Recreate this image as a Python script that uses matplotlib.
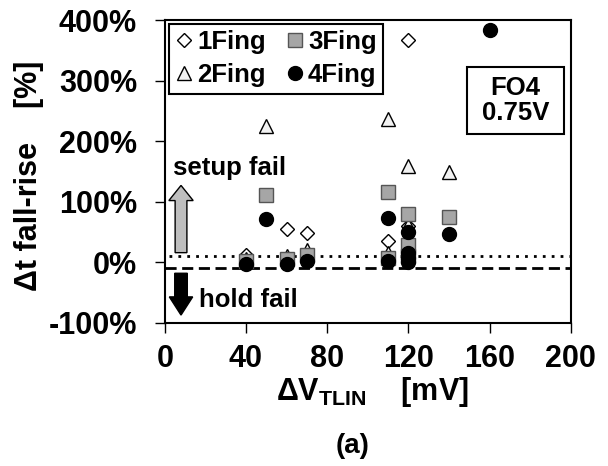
"""Delta t fall-rise vs Delta V_TLIN, FO4 at 0.75V (panel a)."""
import matplotlib
matplotlib.use("Agg")
import matplotlib.pyplot as plt
from matplotlib.patches import FancyArrow, Rectangle

plt.rcParams["font.family"] = ["Liberation Sans", "DejaVu Sans"]
plt.rcParams["font.weight"] = "bold"

# 1Fing (diamonds)
x_1fing = [40, 60, 70, 110, 120, 120]
y_1fing = [12, 55, 48, 36, 60, 367]
# 2Fing (triangles)
x_2fing = [40, 50, 60, 70, 110, 110, 120, 120, 140]
y_2fing = [5, 225, 10, 20, 15, 237, 62, 159, 149]
# 3Fing (grey squares)
x_3fing = [40, 50, 60, 70, 110, 110, 120, 120, 120, 140]
y_3fing = [2, 112, 5, 12, 8, 116, 79, 28, 10, 75]
# 4Fing (black circles)
x_4fing = [40, 50, 60, 70, 110, 110, 120, 120, 120, 120, 140, 160]
y_4fing = [-2, 72, -2, 3, 3, 74, 50, 16, 8, 0, 47, 384]

SETUP_LIMIT = 10
HOLD_LIMIT = -10

x_ticks = [0, 40, 80, 120, 160, 200]
y_ticks = [-100, 0, 100, 200, 300, 400]

fig = plt.figure(figsize=(6.08, 4.66), dpi=100)
ax = fig.add_axes([0.271, 0.307, 0.668, 0.650])

ax.axhline(SETUP_LIMIT, xmin=0.01, color="black", lw=2.0, ls=(0, (1, 2.2)), zorder=1)
ax.axhline(HOLD_LIMIT, color="black", lw=2.0, ls=(0, (4, 2)), zorder=1)

ax.plot(x_1fing, y_1fing, ls="none", marker="D", ms=7, mfc="white",
        mec="black", mew=1.0, label="1Fing", zorder=3)
ax.plot(x_2fing, y_2fing, ls="none", marker="^", ms=10, mfc="#f2f2f2",
        mec="black", mew=1.0, label="2Fing", zorder=3)
ax.plot(x_3fing, y_3fing, ls="none", marker="s", ms=10, mfc="#a6a6a6",
        mec="#555555", mew=1.0, label="3Fing", zorder=4)
ax.plot(x_4fing, y_4fing, ls="none", marker="o", ms=10, mfc="black",
        mec="black", label="4Fing", zorder=5)

# setup / hold arrows
ax.add_patch(FancyArrow(8, 16, 0, 111, width=5.8, head_width=12,
                        head_length=25, length_includes_head=True,
                        fc="#bfbfbf", ec="black", lw=1.0, zorder=2))
ax.add_patch(FancyArrow(8, -18, 0, -69, width=6.2, head_width=11.5,
                        head_length=30, length_includes_head=True,
                        fc="black", ec="black", lw=1.0, zorder=2))
ax.text(4, 144, "setup fail", fontsize=18.5, fontweight="bold", va="baseline")
ax.text(17, -74, "hold fail", fontsize=18.5, fontweight="bold", va="baseline")

# FO4 / 0.75V box
ax.add_patch(Rectangle((0.744, 0.624), 0.239, 0.221, transform=ax.transAxes,
                       fc="white", ec="black", lw=1.5, zorder=6))
ax.text(0.863, 0.734, "FO4\n0.75V", transform=ax.transAxes, fontsize=18.5,
        fontweight="bold", ha="center", va="center", linespacing=1.05,
        zorder=7)

leg = ax.legend(loc="upper left", ncol=2, fontsize=18.5, frameon=True,
                fancybox=False, edgecolor="black", framealpha=1,
                borderaxespad=0.15, handletextpad=0.15, columnspacing=0.8,
                handlelength=0.7, borderpad=0.25, labelspacing=0.35)
leg.get_frame().set_linewidth(1.5)

ax.set_xlim(0, 200)
ax.set_ylim(-100, 400)
ax.set_xticks(x_ticks)
ax.set_yticks(y_ticks)
ax.set_yticklabels([f"{v}%" for v in y_ticks])
ax.tick_params(direction="out", length=7, width=1.0, labelsize=22)
ax.tick_params(axis="y", pad=13)
ax.tick_params(axis="x", pad=8)
for lbl in ax.get_xticklabels() + ax.get_yticklabels():
    lbl.set_fontweight("bold")
for sp in ax.spines.values():
    sp.set_linewidth(1.5)

fig.text(0.612, 0.158, r"ΔV$_{\mathregular{TLIN}}$    [mV]", fontsize=22,
         fontweight="bold", ha="center", va="center")
fig.text(0.048, 0.622, "Δt fall-rise    [%]", fontsize=22, fontweight="bold",
         rotation=90, ha="center", va="center")
fig.text(0.58, 0.043, "(a)", fontsize=20, fontweight="bold", ha="center",
         va="center")

fig.savefig("out.png", dpi=100)
